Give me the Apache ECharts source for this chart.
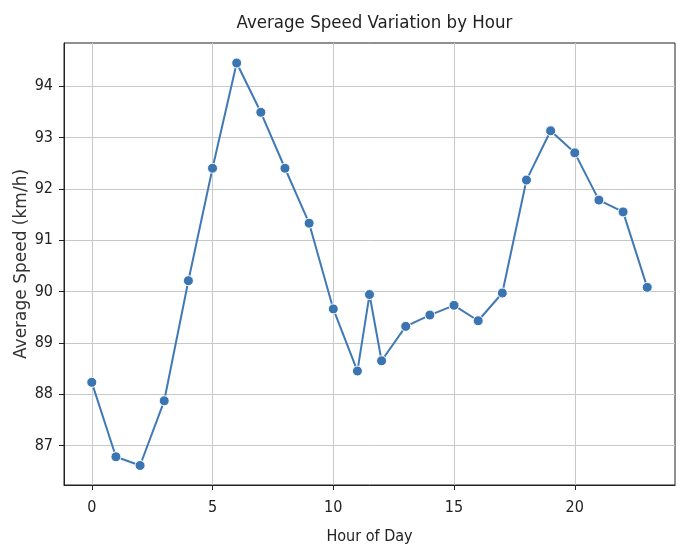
<!DOCTYPE html>
<html>
<head>
<meta charset="utf-8">
<script src="https://cdn.jsdelivr.net/npm/echarts@6/dist/echarts.min.js"></script>
<style>
html,body{margin:0;padding:0;background:#fff;}
#main{width:681px;height:547px;}
</style>
</head>
<body>
<div id="main"></div>
<script>
const hours = [0, 1, 2, 3, 4, 5, 6, 7, 8, 9, 10, 11, 11.5, 12, 13, 14, 15, 16, 17, 18, 19, 20, 21, 22, 23];
const speeds = [88.23, 86.78, 86.61, 87.87, 90.21, 92.40, 94.45, 93.49, 92.40, 91.33, 89.66, 88.45, 89.94, 88.65, 89.32, 89.54, 89.73, 89.43, 89.97, 92.17, 93.13, 92.70, 91.78, 91.55, 90.08];
const xTicks = [0, 5, 10, 15, 20];
const yTicks = [87, 88, 89, 90, 91, 92, 93, 94];
const titleText = 'Average Speed Variation by Hour';
const xName = 'Hour of Day';
const yName = 'Average Speed (km/h)';

const narrow = '"DejaVu Sans Condensed", "Liberation Sans Narrow", "DejaVu Sans", sans-serif';
const points = hours.map((h, i) => [h, speeds[i]]);

const chart = echarts.init(document.getElementById('main'), null, {renderer: 'canvas'});
chart.setOption({
  animation: false,
  backgroundColor: '#ffffff',
  title: {
    text: titleText,
    left: 369.5,
    textAlign: 'center',
    top: 9,
    textStyle: {fontFamily: narrow, fontSize: 18.5, fontWeight: 'normal', color: '#222'}
  },
  grid: {
    left: 64, right: 6, top: 43, bottom: 62,
    containLabel: false,
    outerBoundsMode: 'none',
    show: true, borderColor: '#222', borderWidth: 1, backgroundColor: '#fff'
  },
  xAxis: {
    type: 'value',
    min: -1.15, max: 24.15,
    name: xName,
    nameLocation: 'middle',
    nameGap: 44,
    nameMoveOverlap: false,
    nameTextStyle: {fontFamily: narrow, fontSize: 16, color: '#222'},
    axisLine: {show: true, onZero: false, lineStyle: {color: '#222', width: 1}},
    axisTick: {show: true, length: 5, inside: false, customValues: xTicks, lineStyle: {color: '#222'}},
    axisLabel: {customValues: xTicks, fontFamily: narrow, fontSize: 16, color: '#222', margin: 15},
    splitLine: {show: true, customValues: xTicks, lineStyle: {color: '#c8c8c8', width: 1}}
  },
  yAxis: {
    type: 'value',
    min: 86.23, max: 94.84,
    name: yName,
    nameLocation: 'middle',
    nameGap: 34,
    nameMoveOverlap: false,
    nameTextStyle: {fontFamily: '"DejaVu Sans", sans-serif', fontSize: 17, color: '#333'},
    axisLine: {show: true, onZero: false, lineStyle: {color: '#222', width: 1}},
    axisTick: {show: true, length: 5, inside: false, customValues: yTicks, lineStyle: {color: '#222'}},
    axisLabel: {customValues: yTicks, fontFamily: narrow, fontSize: 16, color: '#222', margin: 11},
    splitLine: {show: true, customValues: yTicks, lineStyle: {color: '#c8c8c8', width: 1}}
  },
  series: [{
    type: 'line',
    data: points,
    symbol: 'circle',
    symbolSize: 10,
    lineStyle: {color: '#4079b5', width: 2},
    itemStyle: {color: '#3a75b2', borderColor: '#ffffff', borderWidth: 1},
    z: 3
  }]
});
</script>
</body>
</html>
